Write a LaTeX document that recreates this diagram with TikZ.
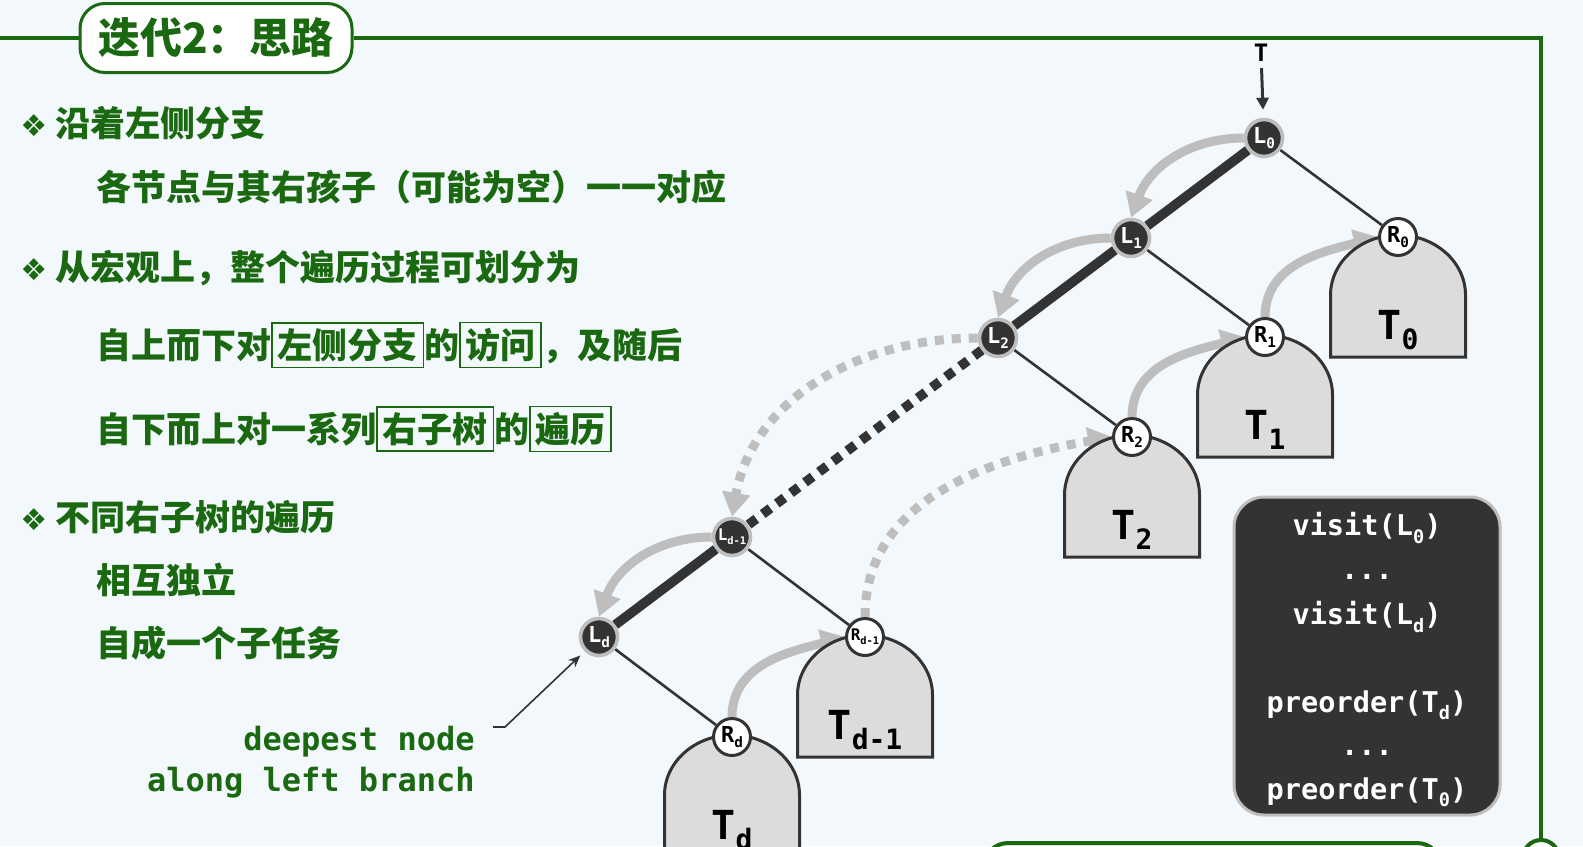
\documentclass[tikz,border=0pt]{standalone}
\usepackage{fontspec}
\usepackage{graphicx}
\usetikzlibrary{arrows.meta}
\newfontfamily\cjk{Noto Sans CJK SC}
\newfontfamily\mono{DejaVu Sans Mono}
\newfontfamily\symf{DejaVu Sans}
\definecolor{bgc}{RGB}{243,248,252}
\definecolor{grn}{RGB}{26,104,16}
\definecolor{ink}{RGB}{51,51,51}
\definecolor{pale}{RGB}{190,190,190}
\definecolor{shade}{RGB}{220,220,220}
\newcommand\dsub[1]{\raisebox{-0.45ex}{\scalebox{0.65}{#1}}}
\newcommand\tsub[1]{\raisebox{-5pt}{\fontsize{14}{14}\selectfont #1}}
\newcommand\kw[1]{{\setlength{\fboxsep}{2.4pt}\setlength{\fboxrule}{0.8pt}\fbox{#1}}}
\newcommand\bul{{\symf\fontsize{15}{15}\selectfont ❖}\hspace{4pt}}
\pgfdeclarelayer{bg}
\pgfsetlayers{bg,main}
\tikzset{
  lnode/.style={circle,fill=ink,draw=pale,line width=1.8pt,minimum size=18.5pt,inner sep=0pt,
    text=white,font=\mono\bfseries\fontsize{11}{11}\selectfont},
  rnode/.style={circle,fill=white,draw=ink,line width=1.5pt,minimum size=18.5pt,inner sep=0pt,
    text=black,font=\mono\bfseries\fontsize{11}{11}\selectfont},
  smlab/.style={font=\mono\bfseries\fontsize{8}{8}\selectfont},
  subtree/.style={draw=ink,fill=shade,line width=1.5pt},
  sublabel/.style={anchor=base,inner sep=0pt,font=\mono\bfseries\fontsize{20}{20}\selectfont},
  ledge/.style={ink,line width=4.8pt},
  ldots/.style={ink,line width=4.8pt,dash pattern=on 4.8pt off 4pt},
  redge/.style={ink,line width=1.3pt},
  garrow/.style={pale,line width=4.5pt,-{Triangle[length=12pt,width=13.5pt]}},
  gdots/.style={garrow,dash pattern=on 4.5pt off 4pt},
  ptr/.style={ink,line width=0.8pt,-{Stealth[length=6pt,width=5pt]}},
  frame/.style={grn,line width=2pt},
  titlebox/.style={draw=grn,fill=white,line width=1.5pt,rounded corners=12.5pt,
    minimum width=136pt,minimum height=34.5pt,text=grn,font=\cjk\bfseries\fontsize{21}{21}\selectfont},
  knob/.style={circle,draw=grn,fill=white,line width=2pt,minimum size=18pt},
  txt/.style={anchor=west,inner sep=0pt,text=grn,font=\cjk\bfseries\fontsize{17.5}{17.5}\selectfont},
  mtxt/.style={inner sep=0pt,text=grn,font=\mono\bfseries\fontsize{16}{20.5}\selectfont},
  codebox/.style={draw=pale,fill=ink,line width=1.5pt,rounded corners=15pt,
    minimum width=133pt,minimum height=159pt},
  ctxt/.style={inner sep=0pt,text=white,font=\mono\bfseries\fontsize{14.3}{14.3}\selectfont},
}
\begin{document}
\begin{tikzpicture}[x=0.5pt,y=-0.5pt]
  \useasboundingbox (0,0) rectangle (1583,846);
  \begin{pgfonlayer}{bg}
    \fill[bgc] (0,0) rectangle (1583,846);
  \end{pgfonlayer}

  % frame and title
  \node[titlebox] (title) at (216,38) {迭代2：思路};
  \node[knob] (knob) at (1541,858) {};
  \draw[frame] (0,38) -- (title);
  \draw[frame] (title) -- (1541,38) -- (knob);
  \draw[frame,rounded corners=12pt] (984,880) -- (984,843) -- (1441,843) -- (1441,880);

  % text on the left
  \node[txt] (b1) at (20,123) {\bul 沿着左侧分支};
  \node[txt] (b1a) at (96,187) {各节点与其右孩子（可能为空）一一对应};
  \node[txt] (b2) at (20,268) {\bul 从宏观上，整个遍历过程可划分为};
  \node[txt] (b2a) at (96,345) {自上而下对\kw{左侧分支}的\kw{访问}，及随后};
  \node[txt] (b2b) at (96,429) {自下而上对一系列\kw{右子树}的\kw{遍历}};
  \node[txt] (b3) at (20,517) {\bul 不同右子树的遍历};
  \node[txt] (b3a) at (96,580) {相互独立};
  \node[txt] (b3b) at (96,643) {自成一个子任务};
  \node[mtxt,align=right,anchor=east] (deep) at (475,762) {deepest node\\along left branch};

  % right subtrees
  \foreach \rx/\ry/\tl [count=\i] in {1398/237/0,1265/337/1,1132/437/2,865/637/{d-1},732/737/d} {
    \pgfmathsetmacro{\xl}{\rx-67.5}
    \pgfmathsetmacro{\xr}{\rx+67.5}
    \pgfmathsetmacro{\xa}{\rx-37}
    \pgfmathsetmacro{\xb}{\rx+37}
    \pgfmathsetmacro{\yt}{\ry-2}
    \pgfmathsetmacro{\yc}{\ry+25}
    \pgfmathsetmacro{\ys}{\ry+58}
    \pgfmathsetmacro{\yb}{\ry+120}
    \draw[subtree] (\xl,\yb) -- (\xl,\ys) .. controls (\xl,\yc) and (\xa,\yt) .. (\rx,\yt)
      .. controls (\xb,\yt) and (\xr,\yc) .. (\xr,\ys) -- (\xr,\yb) -- cycle;
    \node[sublabel] (T\i) at (\rx,\ry+102) {T\tsub{\tl}};}

  % tree nodes
  \node[lnode] (L0) at (1264,138) {L\dsub{0}};
  \node[lnode] (L1) at (1131,238) {L\dsub{1}};
  \node[lnode] (L2) at (998,338) {L\dsub{2}};
  \node[lnode,smlab] (Lm) at (732,537) {L\dsub{d-1}};
  \node[lnode] (Ld) at (599,637) {L\dsub{d}};
  \node[rnode] (R0) at (1398,237) {R\dsub{0}};
  \node[rnode] (R1) at (1265,337) {R\dsub{1}};
  \node[rnode] (R2) at (1132,437) {R\dsub{2}};
  \node[rnode,smlab] (Rm) at (865,637) {R\dsub{d-1}};
  \node[rnode] (Rd) at (732,737) {R\dsub{d}};
  \node[inner sep=2pt,font=\mono\bfseries\fontsize{12}{12}\selectfont] (Tin) at (1261,53) {T};
  \coordinate (dp) at (493,727);

  % code box
  \node[codebox] (code) at (1367,656) {};
  \foreach \yy/\ln [count=\i] in {528/{visit(L\dsub{0})},577/{...},617/{visit(L\dsub{d})},
                                  705/{preorder(T\dsub{d})},753/{...},792/{preorder(T\dsub{0})}}
    \node[ctxt] (c\i) at (1367,\yy) {\ln};

  % edges and traversal arrows
  \begin{pgfonlayer}{bg}
    \draw[ledge] (L0) -- (L1);
    \draw[ledge] (L1) -- (L2);
    \draw[ldots] (L2) -- (Lm);
    \draw[ledge] (Lm) -- (Ld);
    \foreach \a/\b in {L0/R0,L1/R1,L2/R2,Lm/Rm,Ld/Rd}
      \draw[redge] (\a) -- (\b);
    \foreach \a/\b in {L0/L1,L1/L2,Lm/Ld}
      \draw[garrow] (\a.west) to[out=180,in=70] (\b.north);
    \draw[gdots] (L2.west) to[out=180,in=80] (Lm.north);
    \foreach \a/\b in {Rd/Rm,R2/R1,R1/R0}
      \draw[garrow] (\a.north) to[out=90,in=195] (\b.west);
    \draw[gdots] (Rm.north) to[out=90,in=190] (R2.west);
  \end{pgfonlayer}
  \draw[ptr,line width=1.5pt,shorten <=1pt,shorten >=4pt,-{Triangle[length=6pt,width=6pt]}] (Tin) -- (L0);
  \draw[ptr,shorten >=3pt] (dp) -- ++(12,0) -- (Ld.225);
\end{tikzpicture}
\end{document}
